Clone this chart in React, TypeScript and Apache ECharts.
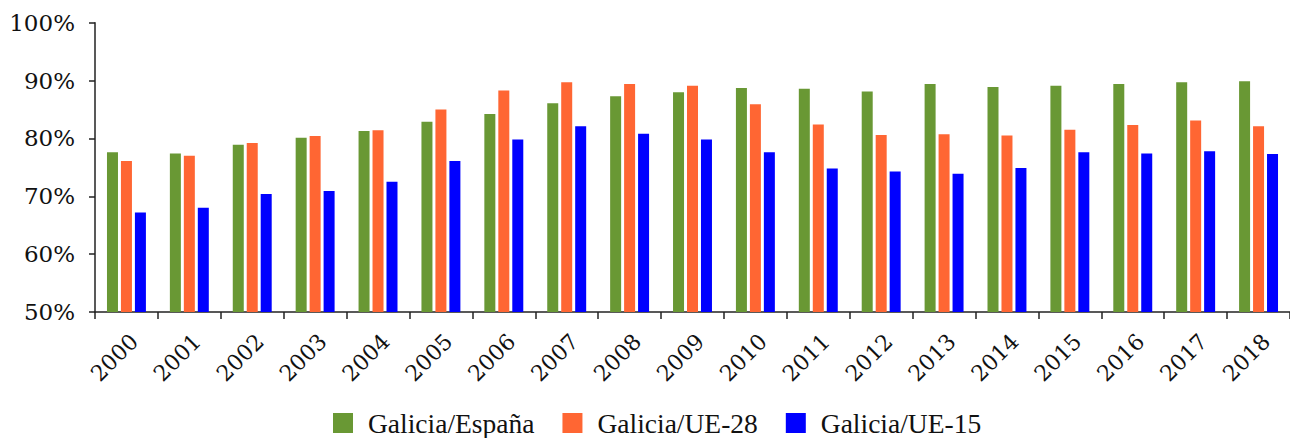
import React, { useEffect, useRef } from "react";
import * as echarts from "echarts";

const years = ["2000","2001","2002","2003","2004","2005","2006","2007","2008","2009","2010","2011","2012","2013","2014","2015","2016","2017","2018"];
const galiciaEspana = [77.6, 77.4, 78.9, 80.1, 81.3, 82.9, 84.2, 86.1, 87.3, 88.0, 88.7, 88.6, 88.1, 89.4, 88.9, 89.1, 89.4, 89.7, 89.9];
const galiciaUE28 = [76.1, 77.0, 79.2, 80.4, 81.4, 85.0, 88.3, 89.7, 89.4, 89.1, 85.9, 82.4, 80.6, 80.7, 80.5, 81.5, 82.3, 83.1, 82.1];
const galiciaUE15 = [67.2, 68.0, 70.4, 70.9, 72.5, 76.1, 79.8, 82.1, 80.8, 79.8, 77.6, 74.8, 74.3, 73.9, 74.9, 77.6, 77.4, 77.8, 77.3];
const seriesNames = ["Galicia/España", "Galicia/UE-28", "Galicia/UE-15"];
const colors = ["#699834", "#FF6633", "#0000FF"];

export default function App() {
  const ref = useRef<HTMLDivElement>(null);
  useEffect(() => {
    if (!ref.current) return;
    const chart = echarts.init(ref.current, null, { renderer: "svg" });
    const axisFont = "DejaVu Serif";
    const data = [galiciaEspana, galiciaUE28, galiciaUE15];
    chart.setOption({
      animation: false,
      backgroundColor: "#ffffff",
      grid: { left: 95, top: 22.7, width: 1203, height: 289.3, containLabel: false },
      legend: {
        data: seriesNames,
        left: 333,
        top: 409,
        padding: 0,
        itemWidth: 20,
        itemHeight: 20,
        itemGap: 28,
        icon: "rect",
        textStyle: { fontFamily: "Liberation Serif", fontSize: 27.5, lineHeight: 28, color: "#111", padding: [0, 0, 0, 10] },
      },
      xAxis: {
        type: "category",
        data: years,
        axisLine: { lineStyle: { color: "#222", width: 1.5 } },
        axisTick: { show: true, length: 7, alignWithLabel: false, lineStyle: { color: "#222", width: 1.5 } },
        axisLabel: { rotate: 45, margin: 18, verticalAlign: "top", fontFamily: axisFont, fontSize: 22, color: "#111", interval: 0 },
      },
      yAxis: {
        type: "value",
        min: 50,
        max: 100,
        interval: 10,
        axisLine: { show: true, lineStyle: { color: "#222", width: 1.5 } },
        axisTick: { show: true, length: 6, lineStyle: { color: "#222", width: 1.5 } },
        splitLine: { show: false },
        axisLabel: { formatter: "{value}%", margin: 20, fontFamily: axisFont, fontSize: 23, color: "#111" },
      },
      series: seriesNames.map((name, i) => ({
        name,
        type: "bar",
        data: data[i],
        barWidth: 11,
        barGap: "27%",
        itemStyle: { color: colors[i] },
      })),
    });
    return () => chart.dispose();
  }, []);
  return <div ref={ref} style={{ position: "absolute", left: 0, top: 0, width: 1290, height: 438 }} />;
}
